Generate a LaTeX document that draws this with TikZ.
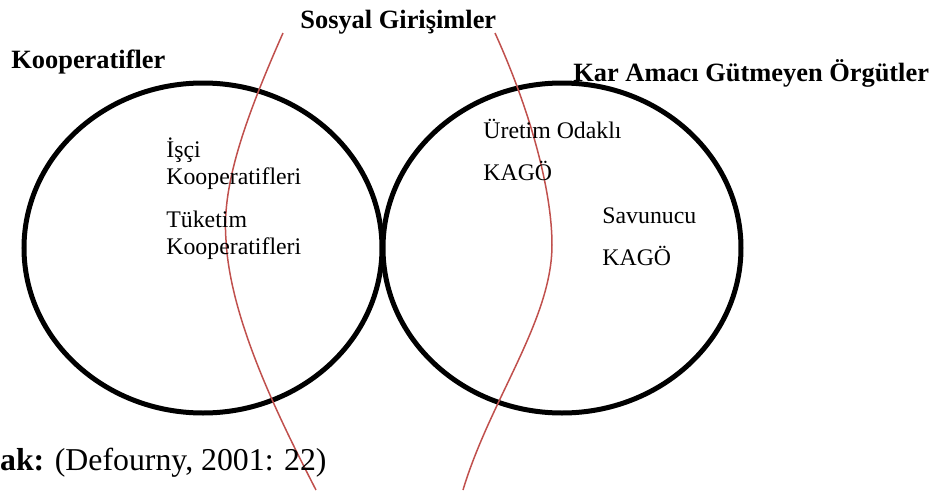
\documentclass[tikz,border=0pt]{standalone}
\usepackage{fontspec}
\setmainfont{Liberation Serif}
\usepackage{tikz}
\usetikzlibrary{positioning,calc}

\definecolor{curvered}{RGB}{192,80,77}

\begin{document}
\begin{tikzpicture}[x=0.5pt, y=-0.5pt,
    label/.style={anchor=base west, inner sep=0pt, font=\fontsize{11.9}{14}\selectfont},
    title/.style={anchor=base west, inner sep=0pt, font=\fontsize{13.2}{15}\selectfont\bfseries}]
    \useasboundingbox (0,0) rectangle (934,493);

    % Define the circles
    \def\circleKoop{(203,248) ellipse (179 and 165)}
    \def\circleKago{(562,248) ellipse (179 and 165)}

    % Draw the circles
    \draw[line width=2.5pt] \circleKoop;
    \draw[line width=2.5pt] \circleKago;

    % Borders of the social enterprises
    \coordinate (ltop) at (283,33);
    \coordinate (lbot) at (316,490);
    \coordinate (rtop) at (495,33);
    \coordinate (rbot) at (463,490);
    \draw[curvered, line width=0.75pt] (ltop) .. controls (240,130) and (222,190) .. (226,240)
        .. controls (230,320) and (280,420) .. (lbot);
    \draw[curvered, line width=0.75pt] (rtop) .. controls (530,110) and (552,190) .. (552,245)
        .. controls (552,320) and (490,400) .. (rbot);

    % Add titles
    \node[title] (sosyal) at (300,28) {Sosyal Girişimler};
    \node[title] (koop) at (11,68) {Kooperatifler};
    \node[title] (kago) at (573,81) {Kar Amacı Gütmeyen Örgütler};

    % Add contents of the circles
    \node[label] (isci) at (166,157) {İşçi};
    \node[label] (iscikoop) at (166,184) {Kooperatifleri};
    \node[label] (tuketim) at (166,227) {Tüketim};
    \node[label] (tuketimkoop) at (166,254) {Kooperatifleri};
    \node[label] (uretim) at (483,138) {Üretim Odaklı};
    \node[label] (uretimkago) at (483,180) {KAGÖ};
    \node[label] (savunucu) at (602,223) {Savunucu};
    \node[label] (savunucukago) at (602,265) {KAGÖ};

    % Add source (cut at the left edge, as in the original)
    \node[label, anchor=base east, font=\fontsize{15.9}{18}\selectfont] (kaynak) at (327,470)
        {\textbf{Kaynak:} (Defourny, 2001: 22)};
\end{tikzpicture}
\end{document}
